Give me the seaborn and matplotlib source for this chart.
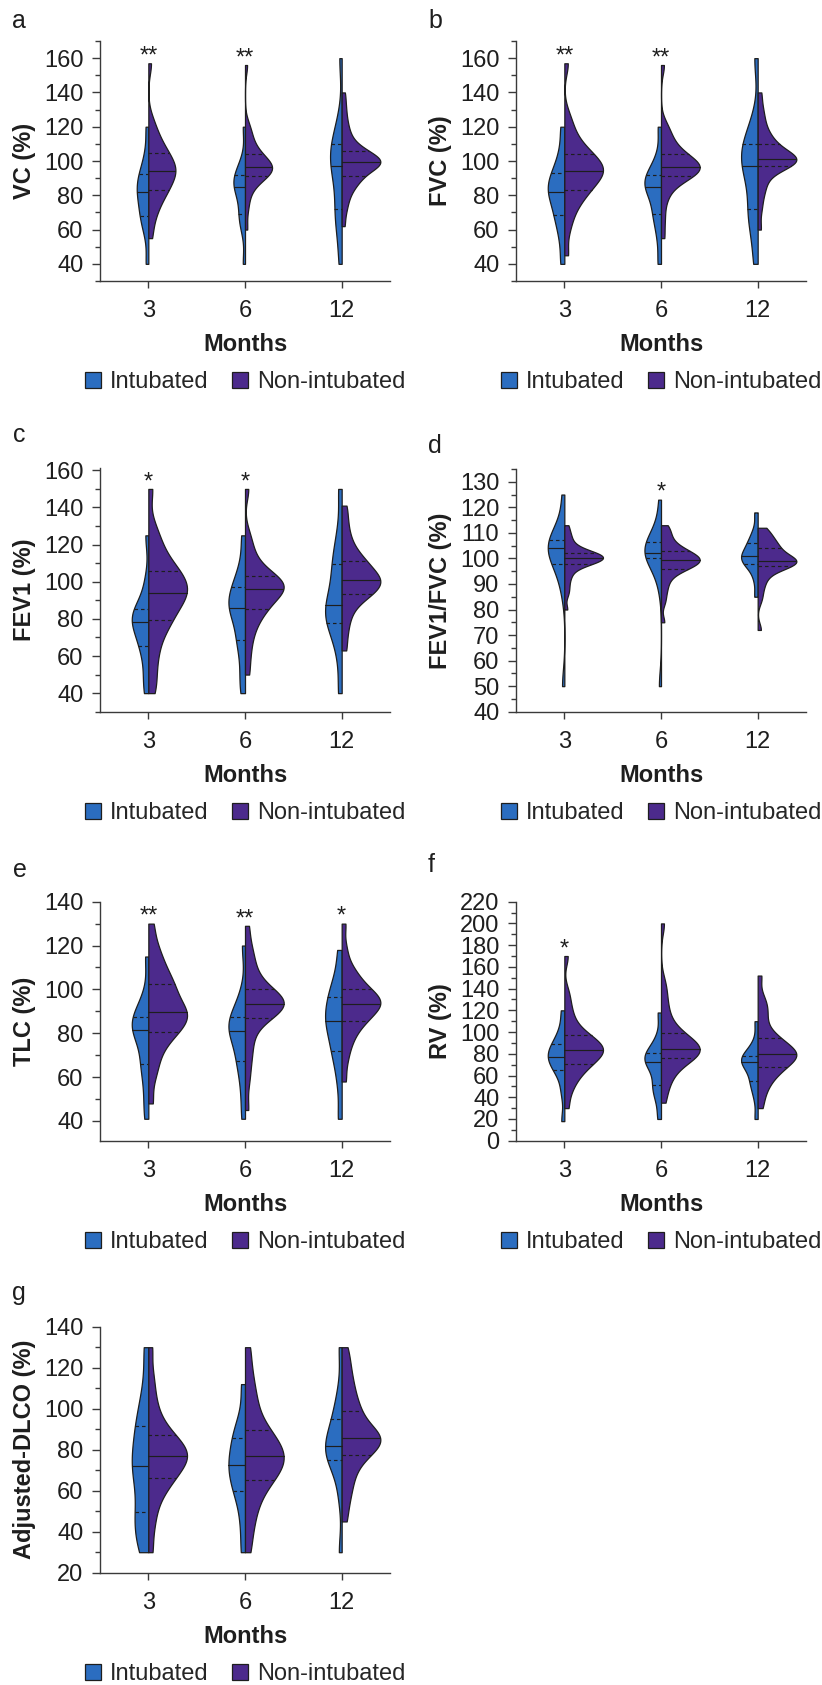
import numpy as np
import pandas as pd
import matplotlib
matplotlib.use("Agg")
import matplotlib.pyplot as plt
from matplotlib.ticker import MultipleLocator
import seaborn as sns

MONTHS = ["3", "6", "12"]
GROUPS = ["Intubated", "Non-intubated"]
COLORS = {"Intubated": "#2B6DC0", "Non-intubated": "#4C2A8C"}

VC_INT = [
    [40, 58, 67, 68.5, 76, 80, 84, 86, 92, 94, 104, 120],
    [40, 60, 68, 69.5, 80, 84, 86, 88, 91.5, 93, 100, 120],
    [40, 58, 70, 72.5, 88, 95, 99, 104, 109, 112, 124, 160],
]
VC_NON = [
    [55, 64, 70, 74, 77, 80, 82.5, 83.5, 85.5, 87.5, 89.5, 91, 92.5, 93.5, 94.5, 96, 97.5, 99, 100.5, 102, 104.5, 105.5, 108, 111, 114, 118, 124, 157],
    [60, 72, 79, 84, 87, 89, 90.5, 91.2, 92.5, 93.5, 94.5, 95.2, 95.8, 96.2, 96.8, 97.5, 98.5, 99.5, 101, 102.5, 103.7, 105, 107, 110, 113, 117, 121, 156],
    [62, 70, 75, 79, 82, 84.5, 86.5, 88, 89.5, 90.8, 91.2, 93, 94.5, 95.5, 96.5, 97.2, 97.8, 98.3, 98.7, 99, 99.3,
     99.7, 100.2, 100.8, 101.5, 102.3, 103.2, 104.2, 105.2, 105.8, 106.5, 108, 110, 112, 115, 118, 122, 127, 133, 140],
]
VC_STARS = ["**", "**", ""]

FVC_INT = [
    [40, 55, 66, 69, 78, 81, 83, 87, 92, 95, 105, 120],
    [40, 56, 68, 69.5, 80, 84, 86, 88, 91.5, 93, 102, 120],
    [40, 58, 70, 72.5, 88, 95, 99, 104, 109, 112, 124, 160],
]
FVC_NON = [
    [45, 60, 68, 73, 77, 80, 82.5, 83.5, 86, 88, 90, 91.5, 93, 93.6, 94.4, 95.5, 97, 98.5, 100, 101.5, 103.5, 105, 107, 110, 114, 119, 126, 157],
    [55, 66, 76, 82, 86, 88.5, 90.5, 91.2, 92.5, 93.5, 94.5, 95.2, 95.8, 96.2, 96.8, 97.5, 98.5, 99.5, 101, 102.5, 103.7, 105, 107, 110, 113, 117, 121, 156],
    [60, 72, 80, 85, 89, 93, 96, 97.5, 98.3, 99, 99.6, 100.1, 100.5, 100.8, 101.2, 101.8, 102.8, 104, 105.5, 107, 109.5, 111, 113, 116, 120, 125, 131, 140],
]
FVC_STARS = ["**", "**", ""]

FEV1_INT = [
    [40, 50, 63, 66.5, 74, 77.5, 79.5, 82, 84.5, 87, 100, 125],
    [40, 52, 67, 69.5, 82, 85, 87, 90, 96.5, 98.5, 108, 125],
    [40, 62, 76, 78.5, 83, 86, 89, 98, 109, 112, 126, 150],
]
FEV1_NON = [
    [40, 48, 57, 64, 70, 75, 78.5, 79.5, 83, 86, 88.5, 90.5, 92.5, 93.5, 94.5, 96, 98, 100, 102, 104, 105.5, 107, 110, 114, 118, 123, 130, 150],
    [50, 60, 68, 74, 78, 82, 84.5, 85.5, 88, 90, 92, 93.5, 95, 95.6, 96.4, 97.2, 98.2, 99.2, 100.3, 101.5, 102.7, 104, 106, 109, 113, 118, 125, 150],
    [63, 72, 79, 84, 88, 91, 92.7, 93.5, 95, 96.5, 97.8, 99, 100, 100.6, 101.4, 102.5, 104, 105.5, 107, 108.5, 110.6, 112, 114, 117, 121, 126, 133, 141],
]
FEV1_STARS = ["*", "*", ""]

RATIO_INT = [
    [50, 88, 96.5, 98, 102, 103.5, 104.5, 105.5, 107, 108.5, 113, 125],
    [50, 90, 99.5, 100.5, 101.5, 102, 102.6, 104, 106, 107.5, 112, 123],
    [85, 92, 97, 98, 99.8, 100.5, 101.3, 103, 105.8, 107, 111, 118],
]
RATIO_NON = [
    [80, 86, 89, 92, 94, 96, 97.2, 97.8, 98.3, 98.8, 99.2, 99.6, 99.9, 100, 100.2, 100.5, 100.8, 101.2, 101.5, 101.8, 102.1, 102.5, 103.5, 104.5, 106, 108, 110, 113],
    [75, 83, 87, 90, 92.5, 94.5, 95.5, 96, 96.8, 97.5, 98, 98.5, 99, 99.2, 99.4, 99.8, 100.3, 100.9, 101.5, 102.2, 102.8, 103.3, 104, 105.5, 107, 109, 111, 113],
    [72, 84, 88, 91, 93, 95, 96.5, 97, 97.4, 97.8, 98.2, 98.5, 98.8, 99, 99.2, 99.6, 100.2, 101, 102, 103, 103.8, 104.5, 105.5, 106.5, 107.5, 109, 110.5, 112],
]
RATIO_STARS = ["", "*", ""]

TLC_INT = [
    [41, 52, 64, 66.5, 77, 80.5, 82.5, 85, 87, 89.5, 97, 115],
    [41, 54, 66, 67.5, 77, 80.5, 82, 84.5, 87, 89.5, 98, 120],
    [41, 58, 70, 72.5, 81, 84.5, 86.7, 90, 96, 98.5, 105, 118],
]
TLC_NON = [
    [48, 60, 66, 71, 75, 78, 80.2, 81, 83, 85, 86.5, 87.5, 88.5, 89.3, 90.3, 92, 94, 96, 98, 100, 102, 103.5, 106, 109, 112, 116, 121, 130],
    [45, 58, 66, 72, 77, 82, 86, 87, 88.5, 90, 91, 92, 92.8, 93.2, 93.8, 94.5, 95.3, 96.2, 97.3, 98.6, 100, 101.5, 104, 107, 111, 115, 120, 129],
    [58, 67, 73, 77, 80, 83, 85, 85.8, 87.5, 89, 90.5, 91.8, 92.7, 93.2, 93.8, 94.5, 95.5, 96.6, 97.8, 99, 100, 101.5, 104, 106, 108, 112, 119, 130],
]
TLC_STARS = ["**", "**", "*"]

RV_INT = [
    [18, 45, 63, 66, 74, 76.5, 78.5, 82, 88, 91.5, 102, 120],
    [20, 38, 49, 52, 66, 71.5, 74.3, 77, 80.5, 83, 95, 118],
    [20, 40, 53, 55, 67, 71.5, 73.1, 75, 77.8, 79.5, 90, 110],
]
RV_NON = [
    [30, 45, 53, 59, 63, 67, 70, 71.2, 74, 77, 79, 80.8, 82.3, 83.2, 84.2, 85.5, 87.5, 89.5, 91.5, 94, 96.5, 98, 102, 108, 115, 124, 136, 170],
    [35, 48, 56, 62, 67, 71, 75, 76, 78, 80, 81.5, 82.8, 83.8, 84.2, 85, 86.5, 88.5, 91, 93.5, 96, 98.5, 101, 106, 114, 122, 133, 145, 200],
    [30, 42, 50, 56, 60, 64, 67, 68, 71, 74, 76, 77.8, 79, 79.6, 80.4, 81.5, 83.5, 86, 89, 92, 94, 96, 102, 110, 118, 124, 132, 152],
]
RV_STARS = ["*", "", ""]

DLCO_INT = [
    [30, 38, 46, 50.5, 64, 70.5, 74, 80, 91, 94, 108, 130],
    [30, 45, 58, 60.5, 68, 71, 73.6, 78, 85, 87, 95, 112],
    [30, 58, 73.5, 75.2, 79, 81, 82.6, 86, 94, 97, 108, 130],
]
DLCO_NON = [
    [30, 42, 50, 56, 60, 63, 65.5, 66.5, 69, 71, 72.8, 74.3, 75.5, 76.4, 77.4, 78.5, 79.8, 81.2, 82.8, 84.5, 86.6, 88, 91, 95, 100, 107, 116, 130],
    [30, 40, 47, 53, 57, 61, 64.5, 65.5, 68, 70, 71.8, 73.3, 74.8, 76.2, 77.6, 79, 80.8, 82.6, 84.5, 86.5, 89, 91, 95, 100, 105, 111, 119, 130],
    [45, 54, 60, 65, 69, 73, 76.5, 77.5, 79.5, 81.5, 83, 84.2, 85, 85.4, 86, 87, 88.5, 90.5, 93, 95.5, 98.5, 100.5, 104, 108, 112, 117, 123, 130],
]
DLCO_STARS = ["", "", ""]

sns.set_style("ticks")
plt.rcParams["font.family"] = ["Liberation Sans", "DejaVu Sans"]
FS = 17
INK = "#1e1e1e"
AXC = "#3a3a3a"

W, H = 822, 1685
fig = plt.figure(figsize=(W / 100, H / 100), dpi=100)


def long_table(int_vals, non_vals):
    rows = []
    for m, a, b in zip(MONTHS, int_vals, non_vals):
        rows += [(m, "Intubated", v) for v in a]
        rows += [(m, "Non-intubated", v) for v in b]
    return pd.DataFrame(rows, columns=["Months", "Group", "Value"])


def draw_panel(letter, ylabel, int_vals, non_vals, stars, box, ylim, major, minor, letter_xy):
    left, top, right, bottom = box
    h = bottom - top
    ax = fig.add_axes([left / W, 1 - bottom / H, (right - left) / W, h / H])
    df = long_table(int_vals, non_vals)
    sns.violinplot(data=df, x="Months", y="Value", hue="Group", order=MONTHS,
                   hue_order=GROUPS, palette=COLORS, split=True, inner="quart",
                   cut=0, density_norm="count", common_norm=True, saturation=1,
                   bw_adjust=0.6, linewidth=0.9, linecolor=INK,
                   inner_kws=dict(linewidth=0.85, color=INK), ax=ax)
    # median solid, quartiles dashed
    for i, ln in enumerate(ax.lines):
        if i % 3 == 1:
            ln.set_linestyle("-")
        else:
            ln.set_linestyle((0, (3, 2.5)))

    for i, (s, a, b) in enumerate(zip(stars, int_vals, non_vals)):
        if s:
            ax.annotate(s, xy=(i, max(max(a), max(b))), xytext=(0, 0.5),
                        textcoords="offset points", ha="center", va="baseline",
                        fontsize=FS, color=INK)

    ax.set_xlim(-0.5, 2.5)
    ax.set_ylim(*ylim)
    ax.yaxis.set_major_locator(MultipleLocator(major))
    ax.yaxis.set_minor_locator(MultipleLocator(minor))
    sns.despine(ax=ax)
    for side in ["left", "bottom"]:
        ax.spines[side].set_linewidth(1.0)
        ax.spines[side].set_color(AXC)
    ax.tick_params(axis="y", which="major", length=6, width=1, pad=6,
                   labelsize=FS, color=AXC, labelcolor=INK)
    ax.tick_params(axis="y", which="minor", length=3.6, width=1, color=AXC)
    ax.tick_params(axis="x", length=5.3, width=1, pad=8.5, labelsize=FS,
                   color=AXC, labelcolor=INK)
    ax.set_xlabel("Months", fontweight="bold", fontsize=FS, color=INK)
    ax.set_ylabel(ylabel, fontweight="bold", fontsize=FS, color=INK)
    ax.yaxis.set_label_coords(-0.222, 0.5)
    ax.xaxis.set_label_coords(0.5, -52 / h)

    sns.move_legend(ax, "center", bbox_to_anchor=(0.5, -101.5 / h), ncol=2,
                    frameon=False, title=None, fontsize=FS, handlelength=0.7,
                    handleheight=0.7, handletextpad=0.35, columnspacing=1.0)
    fig.text(letter_xy[0] / W, 1 - letter_xy[1] / H, letter, fontsize=18,
             ha="left", va="baseline", color=INK)
    return ax


draw_panel("a", "VC (%)", VC_INT, VC_NON, VC_STARS, (100, 41, 390, 281),
           (30, 170), 20, 10, (12, 28.5))
draw_panel("b", "FVC (%)", FVC_INT, FVC_NON, FVC_STARS, (516, 41, 806, 281),
           (30, 170), 20, 10, (428, 28.5))
draw_panel("c", "FEV1 (%)", FEV1_INT, FEV1_NON, FEV1_STARS, (100, 468.5, 390, 711.7),
           (30, 161), 20, 10, (12.5, 441.7))
draw_panel("d", "FEV1/FVC (%)", RATIO_INT, RATIO_NON, RATIO_STARS, (516, 469, 806, 711.7),
           (40, 135), 10, 5, (428, 453.3))
draw_panel("e", "TLC (%)", TLC_INT, TLC_NON, TLC_STARS, (100, 901.7, 390, 1140.7),
           (31, 140), 20, 10, (12.5, 876.7))
draw_panel("f", "RV (%)", RV_INT, RV_NON, RV_STARS, (516, 901.7, 806, 1140.7),
           (0, 220), 20, 10, (428, 871.7))
draw_panel("g", "Adjusted-DLCO (%)", DLCO_INT, DLCO_NON, DLCO_STARS, (100, 1326.7, 390, 1572.7),
           (20, 140), 20, 10, (12, 1300))

fig.savefig("out.png", dpi=100)
